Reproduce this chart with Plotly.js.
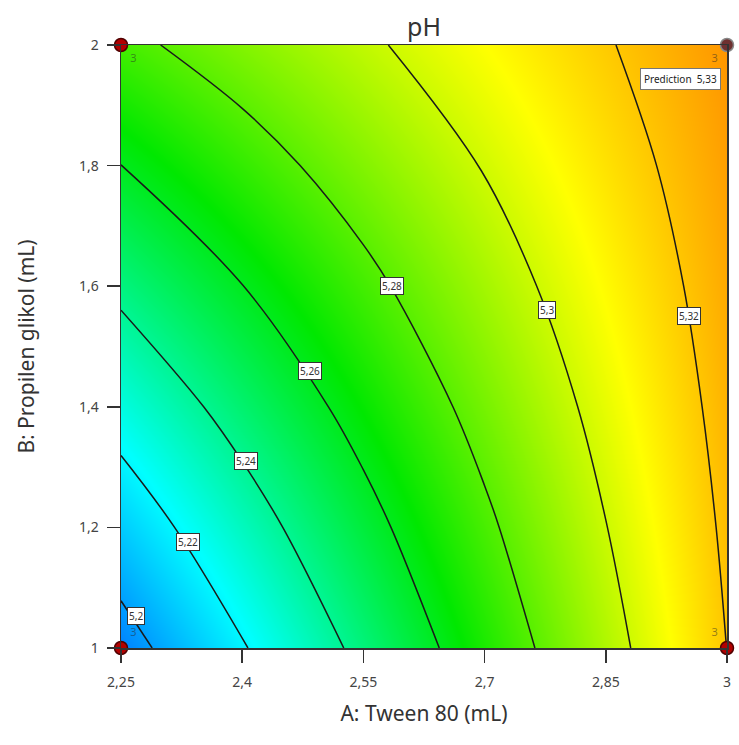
<!DOCTYPE html>
<html>
<head>
<meta charset="utf-8">
<script src="https://cdn.plot.ly/plotly-3.0.1.min.js"></script>
<style>html,body{margin:0;padding:0;background:#fff;}#chart{width:739px;height:745px;}</style>
</head>
<body>
<div id="chart"></div>
<script>
// A: Tween 80 (mL) grid and B: Propilen glikol (mL) grid
var tweenA = [2.25, 2.4, 2.55, 2.7, 2.85, 3];
var propilenB = [1, 1.2, 1.4, 1.6, 1.8, 2];
// pH values, one row per B level
var phAtB1_0 = [5.1935, 5.2188, 5.2441, 5.2695, 5.2948, 5.3201];
var phAtB1_2 = [5.2101, 5.2325, 5.2549, 5.2773, 5.2997, 5.3220];
var phAtB1_4 = [5.2267, 5.2462, 5.2656, 5.2851, 5.3045, 5.3240];
var phAtB1_6 = [5.2433, 5.2598, 5.2763, 5.2929, 5.3094, 5.3259];
var phAtB1_8 = [5.2599, 5.2735, 5.2871, 5.3007, 5.3143, 5.3279];
var phAtB2_0 = [5.2765, 5.2872, 5.2978, 5.3085, 5.3191, 5.3298];
// contour levels shown with labels
var contourLevels = [5.2, 5.22, 5.24, 5.26, 5.28, 5.3, 5.32];
// design points and replicate counts
var designA = [2.25, 2.25, 3, 3];
var designB = [1, 2, 1, 2];
var designReps = ['3', '3', '3', '3'];
var predictionValue = 5.33;

var zGrid = [phAtB1_0, phAtB1_2, phAtB1_4, phAtB1_6, phAtB1_8, phAtB2_0];
var fam = '"Noto Sans", "Open Sans", sans-serif';

var colors = [
  [0.00, 'rgb(0,60,255)'],
  [0.25, 'rgb(0,255,255)'],
  [0.50, 'rgb(0,232,0)'],
  [0.75, 'rgb(255,255,0)'],
  [1.00, 'rgb(255,40,0)']
];

var heat = {
  type: 'heatmap', x: tweenA, y: propilenB, z: zGrid,
  zsmooth: 'best', colorscale: colors, zmin: 5.178, zmax: 5.352,
  showscale: false, hoverinfo: 'skip'
};
var lines = {
  type: 'contour', x: tweenA, y: propilenB, z: zGrid,
  autocontour: false,
  contours: {start: contourLevels[0], end: contourLevels[contourLevels.length - 1], size: 0.02, coloring: 'none'},
  line: {color: '#1a1a1a', width: 1.5, smoothing: 1},
  showscale: false, hoverinfo: 'skip'
};
var pts = {
  type: 'scatter', mode: 'markers+text', x: designA, y: designB, text: designReps,
  textposition: ['top right', 'bottom right', 'top left', 'bottom left'],
  textfont: {size: 11, color: 'rgba(40,40,40,0.5)', family: fam},
  marker: {size: 13, color: ['#b30000', '#b30000', '#b30000', '#6e3030'], line: {color: ['#500000', '#500000', '#500000', '#888'], width: 1.5}},
  cliponaxis: false, hoverinfo: 'skip'
};

function fmt(v) { return String(v).replace('.', ','); }
var labelPos = [
  [2.2685, 1.053], [2.3328, 1.176], [2.4045, 1.310], [2.4835, 1.459],
  [2.586, 1.600], [2.7776, 1.561], [2.953, 1.551]
];
var annotations = contourLevels.map(function (lv, i) {
  return {
    x: labelPos[i][0], y: labelPos[i][1], xref: 'x', yref: 'y', text: fmt(lv),
    showarrow: false, bgcolor: '#ffffff', bordercolor: '#333', borderwidth: 1, borderpad: 1,
    font: {size: 10, color: '#333', family: fam}
  };
});
annotations.push({
  x: 2.943, y: 1.9436, xref: 'x', yref: 'y', text: 'Prediction&nbsp;&nbsp;' + fmt(predictionValue),
  showarrow: false, bgcolor: '#ffffff', bordercolor: '#777', borderwidth: 1, borderpad: 3,
  font: {size: 10, color: '#222', family: fam}
});

var layout = {
  width: 739, height: 745,
  margin: {l: 121, r: 12, t: 45, b: 97},
  paper_bgcolor: '#ffffff', plot_bgcolor: '#ffffff',
  separators: ',.',
  showlegend: false,
  font: {family: fam, color: '#444'},
  title: {text: 'pH', font: {size: 25, color: '#333', family: fam}, x: 0.5, xref: 'paper', xanchor: 'center', y: 1 - 27 / 745, yref: 'container', yanchor: 'middle'},
  xaxis: {
    range: [2.25, 3], tickvals: tweenA, ticks: 'outside', ticklen: 13, tickwidth: 1.5, tickcolor: '#333',
    ticklabelstandoff: 8,
    showline: true, linecolor: '#333', linewidth: 1.5, mirror: true, showgrid: false, zeroline: false,
    tickfont: {size: 14, color: '#444', family: fam},
    title: {text: 'A: Tween 80 (mL)', font: {size: 21, color: '#333', family: fam}, standoff: 16}
  },
  yaxis: {
    range: [1, 2], tickvals: propilenB, ticks: 'outside', ticklen: 13, tickwidth: 1.5, tickcolor: '#333',
    ticklabelstandoff: 5,
    showline: true, linecolor: '#333', linewidth: 1.5, mirror: true, showgrid: false, zeroline: false,
    tickfont: {size: 14, color: '#444', family: fam},
    title: {text: 'B: Propilen glikol (mL)', font: {size: 21, color: '#333', family: fam}, standoff: 38}
  },
  annotations: annotations
};

Plotly.newPlot('chart', [heat, lines, pts], layout, {displayModeBar: false, staticPlot: true});
</script>
</body>
</html>
